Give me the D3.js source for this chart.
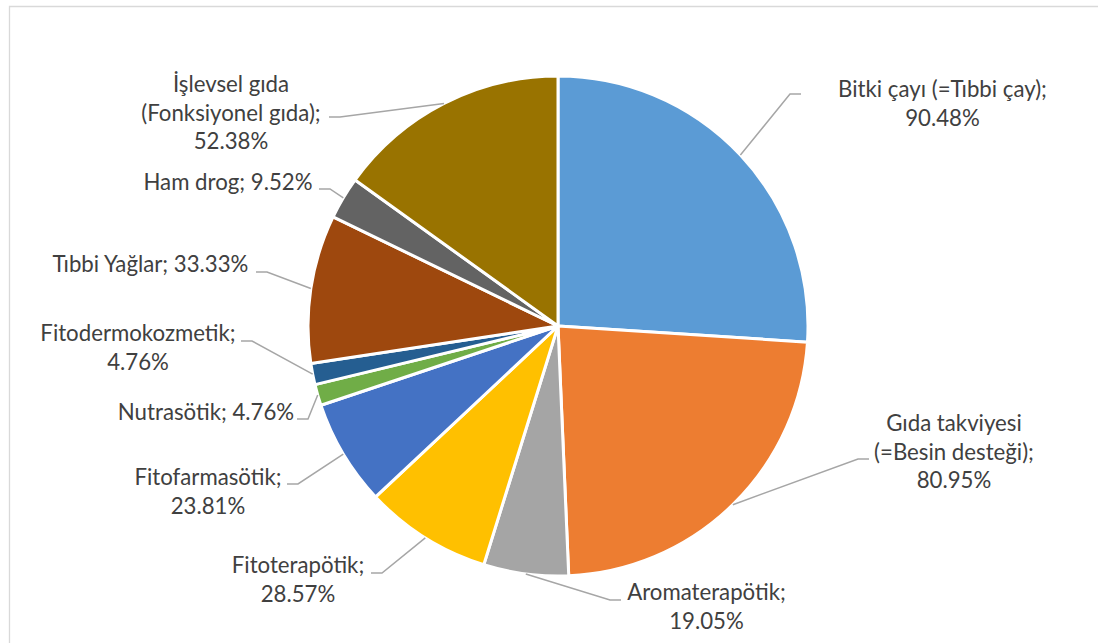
<!DOCTYPE html>
<html>
<head>
<meta charset="utf-8">
<script src="https://cdn.jsdelivr.net/npm/d3@7"></script>
<style>
  html, body { margin: 0; padding: 0; background: #ffffff; }
  svg { display: block; }
</style>
</head>
<body>
<script>
// Categories (clockwise from 12 o'clock) and their shares
const categories = [
  "Bitki çayı (=Tıbbi çay)",
  "Gıda takviyesi (=Besin desteği)",
  "Aromaterapötik",
  "Fitoterapötik",
  "Fitofarmasötik",
  "Nutrasötik",
  "Fitodermokozmetik",
  "Tıbbi Yağlar",
  "Ham drog",
  "İşlevsel gıda (Fonksiyonel gıda)"
];
const values = [90.48, 80.95, 19.05, 28.57, 23.81, 4.76, 4.76, 33.33, 9.52, 52.38];
const colors = [
  "#5B9BD5", "#ED7D31", "#A5A5A5", "#FFC000", "#4472C4",
  "#70AD47", "#255E91", "#9E480E", "#636363", "#997300"
];

// Label placement: text centre x, first baseline, leader elbow, side, wrap width
const labelLayout = [
  { cx: 942.5, y: 97,  ex: 790, ey: 94,  side: "right", wrap: 240 },
  { cx: 954,   y: 431, ex: 858, ey: 459, side: "right", wrap: 180 },
  { cx: 706.5, y: 600, ex: 610, ey: 600, side: "right", wrap: 190 },
  { cx: 298,   y: 573, ex: 382, ey: 573, side: "left",  wrap: 160 },
  { cx: 208,   y: 485, ex: 298, ey: 484, side: "left",  wrap: 170 },
  { cx: 206,   y: 420, ex: 308, ey: 419, side: "left",  wrap: 240 },
  { cx: 138,   y: 341, ex: 252, ey: 341, side: "left",  wrap: 220 },
  { cx: 150.5, y: 272, ex: 267, ey: 272, side: "left",  wrap: 240 },
  { cx: 228,   y: 190, ex: 330, ey: 189, side: "left",  wrap: 240 },
  { cx: 231,   y: 92,  ex: 340, ey: 117, side: "left",  wrap: 210 }
];

const W = 1102, H = 643;
const cx = 558, cy = 326, R = 250;
const lineH = 28.5;
const fontFamily = "Lato, 'Open Sans', sans-serif";
const textColor = "#404040";

const svg = d3.select("body").append("svg")
  .attr("width", W).attr("height", H);

// chart area frame
svg.append("path")
  .attr("d", `M9.5,${H + 10} V6.5 H1098`)
  .attr("fill", "none")
  .attr("stroke", "#d9d9d9")
  .attr("stroke-width", 1.3);

// size the label font so the longest label line keeps its width
const probe = svg.append("text")
  .attr("font-family", fontFamily)
  .attr("font-size", 100)
  .text("Bitki çayı (=Tıbbi çay);");
const fontSize = 100 * 209 / probe.node().getComputedTextLength();
probe.remove();

const pie = d3.pie().value(d => d).sort(null);
const arcs = pie(values);
const arc = d3.arc().innerRadius(0).outerRadius(R);
const rimArc = d3.arc().innerRadius(R).outerRadius(R);

const g = svg.append("g").attr("transform", `translate(${cx},${cy})`);

g.selectAll("path.slice")
  .data(arcs)
  .join("path")
  .attr("class", "slice")
  .attr("d", arc)
  .attr("fill", (d, i) => colors[i])
  .attr("stroke", "#ffffff")
  .attr("stroke-width", 3)
  .attr("stroke-linejoin", "round");

// leader lines: rim point -> elbow -> short horizontal hook
const hook = 11;
svg.selectAll("polyline.leader")
  .data(arcs)
  .join("polyline")
  .attr("class", "leader")
  .attr("points", (d, i) => {
    const [px, py] = rimArc.centroid(d);
    const L = labelLayout[i];
    const hx = L.side === "right" ? L.ex + hook : L.ex - hook;
    return `${cx + px},${cy + py} ${L.ex},${L.ey} ${hx},${L.ey}`;
  })
  .attr("fill", "none")
  .attr("stroke", "#a6a6a6")
  .attr("stroke-width", 1.5);

// labels: "Category; value%" wrapped into lines
const fmt = v => v.toFixed(2) + "%";
const measure = svg.append("text")
  .attr("font-family", fontFamily)
  .attr("font-size", fontSize);
function wrapText(str, maxW) {
  const words = str.split(" ");
  const lines = [];
  let cur = words[0];
  for (let k = 1; k < words.length; k++) {
    const test = cur + " " + words[k];
    measure.text(test);
    if (measure.node().getComputedTextLength() > maxW) {
      lines.push(cur);
      cur = words[k];
    } else {
      cur = test;
    }
  }
  lines.push(cur);
  return lines;
}

const labels = svg.selectAll("text.label")
  .data(arcs)
  .join("text")
  .attr("class", "label")
  .attr("font-family", fontFamily)
  .attr("font-size", fontSize)
  .attr("fill", textColor)
  .attr("text-anchor", "middle");

labels.each(function (d, i) {
  const L = labelLayout[i];
  const lines = wrapText(categories[i] + "; " + fmt(values[i]), L.wrap);
  d3.select(this).selectAll("tspan")
    .data(lines)
    .join("tspan")
    .attr("x", L.cx)
    .attr("y", (t, k) => L.y + k * lineH)
    .text(t => t);
});
measure.remove();
</script>
</body>
</html>
